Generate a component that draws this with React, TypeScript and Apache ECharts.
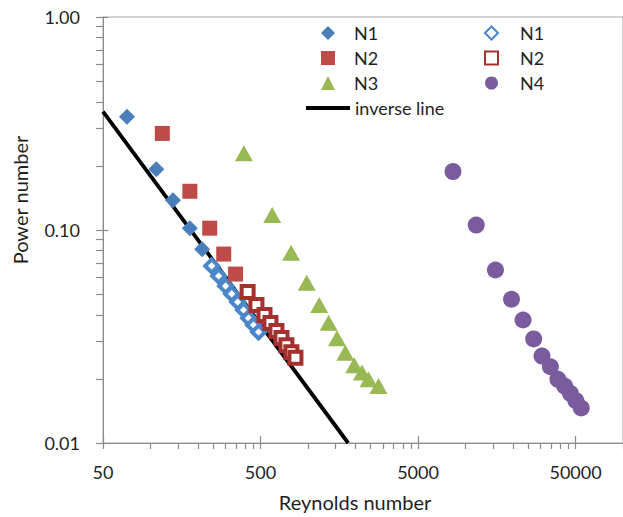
import React, { useEffect, useRef } from "react";
import * as echarts from "echarts";

// ---- data ----
const n1SolidRe = [71, 109, 139, 178, 213];
const n1SolidPo = [0.34, 0.193, 0.138, 0.102, 0.0812];

const n1OpenRe = [245, 271, 300, 328, 358, 390, 420, 451, 486];
const n1OpenPo = [0.0678, 0.0608, 0.0546, 0.0501, 0.0459, 0.0421, 0.0386, 0.0358, 0.0332];

const n2SolidRe = [119, 178, 238, 292, 347];
const n2SolidPo = [0.284, 0.152, 0.102, 0.0771, 0.0621];

const n2OpenRe = [414, 471, 530, 578, 631, 679, 730, 785, 833];
const n2OpenPo = [0.0512, 0.0445, 0.0399, 0.0366, 0.0336, 0.0311, 0.0288, 0.0267, 0.0251];

const n3Re = [392, 593, 782, 982, 1180, 1353, 1529, 1726, 1968, 2202, 2422, 2805];
const n3Po = [0.229, 0.1175, 0.0782, 0.0566, 0.0445, 0.0367, 0.031, 0.0265, 0.0232, 0.0214, 0.0199, 0.0185];

const n4Re = [8330, 11700, 15500, 19600, 23200, 27100, 30600, 34600, 38600, 42600, 46300, 50200, 54300];
const n4Po = [0.188, 0.1055, 0.0649, 0.0473, 0.0378, 0.0308, 0.0256, 0.0228, 0.0199, 0.0185, 0.0171, 0.0158, 0.0146];

const lineRe = [50, 1800];
const linePo = [0.36, 0.01];

// tick labels
const xMajorTicks = [50, 500, 5000, 50000];
const yMajorTicks = [0.01, 0.1, 1];
const X_MIN = 50;
const X_MAX = 100000;
const Y_MIN = 0.01;
const Y_MAX = 1;

const FONT = 'Lato, "Open Sans", "DejaVu Sans", sans-serif';
const TEXT = "#1f1f1f";
const AXIS = "#8c8c8c";
const TICK = "#8c8c8c";

function withMinors(majors: number[], max: number): number[] {
  const out: number[] = [];
  majors.forEach((m) => {
    for (let k = 1; k <= 9; k++) {
      const v = parseFloat((m * k).toPrecision(6));
      if (v <= max) out.push(v);
    }
  });
  return out;
}

function zip(a: number[], b: number[]) {
  return a.map((v, i) => [v, b[i]]);
}

export default function App() {
  const ref = useRef<HTMLDivElement>(null);

  useEffect(() => {
    if (!ref.current) return;
    const chart = echarts.init(ref.current, undefined, { renderer: "svg" });

    const xAll = withMinors(xMajorTicks, X_MAX);
    const yAll = withMinors(yMajorTicks, Y_MAX);

    const fmt = (n: string) => n.split(" ")[0];

    const option = {
      animation: false,
      textStyle: { fontFamily: FONT },
      grid: {
        left: 103,
        top: 17,
        width: 521.6,
        height: 426,
        show: true,
        borderColor: "#a6a6a6",
        borderWidth: 1,
      },
      xAxis: [
        {
          type: "log",
          min: X_MIN,
          max: X_MAX,
          name: "Reynolds number",
          nameLocation: "middle",
          nameGap: 49,
          nameTextStyle: { fontSize: 20, color: TEXT, fontFamily: FONT, padding: [0, 16, 0, 0] },
          axisLine: { show: true, onZero: false, lineStyle: { color: AXIS, width: 1 } },
          axisTick: { show: true, length: 6, customValues: xAll, lineStyle: { color: TICK, width: 1.2 } },
          axisLabel: {
            customValues: xMajorTicks,
            formatter: (v: number) => String(v),
            margin: 20,
            fontSize: 18,
            color: TEXT,
            fontFamily: FONT,
          },
          splitLine: { show: false },
        },
        {
          type: "log",
          min: X_MIN,
          max: X_MAX,
          position: "bottom",
          axisLine: { show: false, onZero: false },
          axisTick: { show: true, inside: true, length: 7, customValues: xMajorTicks, lineStyle: { color: TICK, width: 1.2 } },
          axisLabel: { show: false },
          splitLine: { show: false },
        },
      ],
      yAxis: [
        {
          type: "log",
          min: Y_MIN,
          max: Y_MAX,
          name: "Power number",
          nameLocation: "middle",
          nameGap: 73,
          nameTextStyle: { fontSize: 20, color: TEXT, fontFamily: FONT, padding: [0, 0, 0, 60] },
          axisLine: { show: true, onZero: false, lineStyle: { color: AXIS, width: 1 } },
          axisTick: { show: true, length: 7, customValues: yAll, lineStyle: { color: TICK, width: 1.2 } },
          axisLabel: {
            customValues: yMajorTicks,
            formatter: (v: number) => Number(v).toFixed(2),
            margin: 23,
            fontSize: 18,
            color: TEXT,
            fontFamily: FONT,
          },
          splitLine: { show: false },
        },
        {
          type: "log",
          min: Y_MIN,
          max: Y_MAX,
          position: "left",
          axisLine: { show: false, onZero: false },
          axisTick: { show: true, inside: true, length: 5, customValues: yMajorTicks, lineStyle: { color: TICK, width: 1.2 } },
          axisLabel: { show: false },
          splitLine: { show: false },
        },
      ],
      legend: [
        {
          data: ["N1", "N2", "N3"],
          orient: "vertical",
          left: 321,
          top: 24,
          padding: 0,
          itemWidth: 14,
          itemHeight: 14,
          itemGap: 7,
          selectedMode: false,
          textStyle: { fontSize: 18, lineHeight: 18, color: TEXT, fontFamily: FONT, padding: [0, 0, 0, 14] },
          formatter: fmt,
        },
        {
          data: ["N1 open", "N2 open", "N4"],
          orient: "vertical",
          left: 484,
          top: 24,
          padding: 0,
          itemWidth: 13,
          itemHeight: 13,
          itemGap: 7,
          selectedMode: false,
          textStyle: { fontSize: 18, lineHeight: 18, color: TEXT, fontFamily: FONT, padding: [0, 0, 0, 17] },
          formatter: fmt,
        },
        {
          data: [{ name: "inverse line", icon: "rect" }],
          orient: "vertical",
          left: 306,
          top: 99,
          padding: 0,
          itemWidth: 44,
          itemHeight: 4,
          selectedMode: false,
          itemStyle: { color: "#000000" },
          textStyle: { fontSize: 18, lineHeight: 18, color: TEXT, fontFamily: FONT },
        },
      ],
      series: [
        {
          name: "inverse line",
          type: "line",
          data: zip(lineRe, linePo),
          symbol: "none",
          lineStyle: { color: "#000000", width: 3.8 },
          itemStyle: { color: "#000000" },
          z: 1,
          silent: true,
        },
        {
          name: "N1",
          type: "scatter",
          data: zip(n1SolidRe, n1SolidPo),
          symbol: "diamond",
          symbolSize: 16,
          itemStyle: { color: "#4A7EBB", opacity: 1 },
          z: 2,
        },
        {
          name: "N1 open",
          type: "scatter",
          data: zip(n1OpenRe, n1OpenPo),
          symbol: "diamond",
          symbolSize: 13,
          itemStyle: { color: "#ffffff", borderColor: "#4A86C8", borderWidth: 4, opacity: 1 },
          z: 3,
        },
        {
          name: "N2",
          type: "scatter",
          data: zip(n2SolidRe, n2SolidPo),
          symbol: "rect",
          symbolSize: 15,
          itemStyle: { color: "#BE4B48", opacity: 1 },
          z: 4,
        },
        {
          name: "N2 open",
          type: "scatter",
          data: zip(n2OpenRe, n2OpenPo),
          symbol: "rect",
          symbolSize: 12,
          itemStyle: { color: "#ffffff", borderColor: "#A5312F", borderWidth: 4, opacity: 1 },
          z: 5,
        },
        {
          name: "N3",
          type: "scatter",
          data: zip(n3Re, n3Po),
          symbol: "triangle",
          symbolSize: [18, 16],
          itemStyle: { color: "#98B954", opacity: 1 },
          z: 6,
        },
        {
          name: "N4",
          type: "scatter",
          data: zip(n4Re, n4Po),
          symbol: "circle",
          symbolSize: 17,
          itemStyle: { color: "#7A5C9E", opacity: 1 },
          z: 7,
        },
      ],
    };

    chart.setOption(option as any);
    return () => {
      chart.dispose();
    };
  }, []);

  return (
    <div
      ref={ref}
      style={{ position: "fixed", left: 0, top: 0, width: 623, height: 517, background: "#ffffff" }}
    />
  );
}
